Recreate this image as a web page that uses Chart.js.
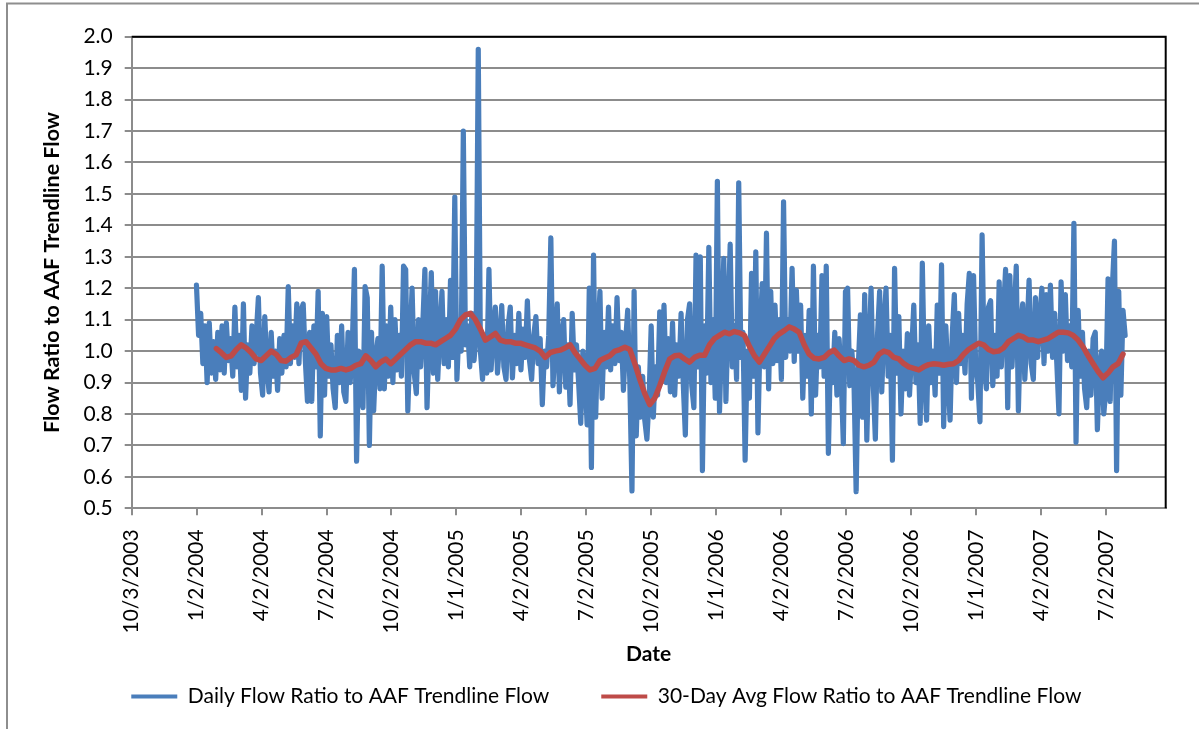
<!DOCTYPE html>
<html>
<head>
<meta charset="utf-8">
<title>Flow Ratio to AAF Trendline Flow</title>
<script src="https://cdn.jsdelivr.net/npm/chart.js@4.4.1/dist/chart.umd.min.js"></script>
<style>
    html, body { margin: 0; padding: 0; background: #fff; }
    #wrap { width: 1199px; height: 729px; }
</style>
</head>
<body>
<div id="wrap"><canvas id="flowChart" width="1199" height="729"></canvas></div>
<script>
// x values are days after 10/3/2003 (first tick of the date axis)
const axisMaxDay = 1453;
const tickStepDays = 91.25;
const xTickLabels = [
    '10/3/2003', '1/2/2004', '4/2/2004', '7/2/2004', '10/2/2004', '1/1/2005',
    '4/2/2005', '7/2/2005', '10/2/2005', '1/1/2006', '4/2/2006', '7/2/2006',
    '10/2/2006', '1/1/2007', '4/2/2007', '7/2/2007'
];
const yTicks = [0.5, 0.6, 0.7, 0.8, 0.9, 1.0, 1.1, 1.2, 1.3, 1.4, 1.5, 1.6, 1.7, 1.8, 1.9, 2.0];

// daily ratio, read every 3rd day starting 1/2/2004 (day 91)
const dailyStartDay = 91;
const dailyStepDays = 3;
const daily2004 = [
    1.21, 1.05, 1.12, 0.96, 1.08, 0.90, 1.09, 0.93, 1.03, 0.91,
    1.06, 0.94, 1.08, 0.93, 1.09, 0.97, 1.04, 0.92, 1.14, 0.95,
    1.05, 0.875, 1.15, 0.85, 1.02, 0.93, 1.08, 0.96, 1.05, 1.17,
    0.93, 0.86, 1.11, 0.95, 0.87, 1.06, 0.92, 1.00, 0.875, 1.04,
    0.93, 1.05, 0.95, 1.205, 0.96, 1.08, 0.98, 1.15, 0.96, 1.13,
    1.15, 0.97, 0.84, 1.06, 0.84, 1.08, 0.95, 1.19, 0.73, 1.12,
    0.86, 1.11, 0.92, 1.02, 0.88, 0.82, 1.05, 0.90, 1.08, 0.87,
    0.84, 1.06, 0.90, 1.02, 1.26, 0.65, 1.00, 0.90, 0.82, 1.205,
    1.17, 0.70, 1.06, 0.81, 0.98, 1.04, 0.88, 1.27, 0.88, 1.08,
    0.92, 1.14, 0.90, 1.10, 0.94, 1.05, 0.92, 1.27, 1.26, 0.81,
    1.02, 1.20, 0.93, 0.865, 1.10, 0.95, 1.08, 1.26, 0.82, 1.05,
    1.25, 0.93, 1.19, 0.91, 1.06, 1.19, 0.96, 1.10, 0.95, 1.225,
    0.98, 1.49
];
const daily2005 = [
    0.91, 1.08, 1.00, 1.70, 1.02, 1.08, 0.95, 1.12, 0.97, 1.05,
    1.96, 1.00, 0.91, 1.05, 0.93, 1.26, 0.94, 1.06, 1.14, 0.93,
    1.03, 1.145, 0.95, 0.91, 1.08, 1.14, 0.915, 1.05, 0.96, 1.12,
    0.94, 1.07, 0.98, 1.16, 0.97, 0.91, 1.05, 1.11, 0.96, 1.04,
    0.83, 1.00, 0.95, 1.05, 1.36, 0.89, 1.02, 1.15, 0.87, 1.05,
    1.10, 0.885, 1.02, 0.83, 1.12, 0.94, 1.02, 0.90, 0.77, 1.00,
    0.92, 0.765, 1.20, 0.63, 1.305, 0.79, 1.05, 1.19, 0.85, 1.06,
    0.95, 1.14, 0.94, 1.08, 0.96, 1.17, 0.97, 1.06, 0.875, 1.03,
    1.13, 0.90, 0.555, 1.19, 0.73, 0.95, 0.79, 0.92, 0.78, 0.72,
    0.85, 1.08, 0.79, 0.95, 0.86, 1.125, 0.92, 1.146, 0.90, 1.04,
    0.87, 1.09, 0.86, 1.02, 0.92, 1.12, 0.90, 0.733, 1.10, 1.15,
    0.89, 0.82, 1.305, 0.95, 1.30, 0.62, 1.08, 0.93, 1.33, 0.90,
    1.10, 0.85
];
const daily2006 = [
    1.54, 0.807, 1.05, 1.295, 0.84, 1.10, 1.34, 0.95, 1.08, 0.91,
    1.535, 0.98, 1.06, 0.653, 1.00, 0.85, 1.247, 0.92, 1.316, 0.74,
    1.05, 1.215, 0.95, 1.375, 0.88, 1.19, 0.96, 1.146, 0.97, 1.10,
    0.91, 1.475, 0.98, 1.10, 1.00, 1.263, 0.967, 1.194, 1.00, 1.146,
    0.85, 1.05, 0.92, 1.13, 0.80, 1.27, 0.86, 1.05, 0.95, 1.24,
    0.92, 1.27, 0.675, 1.00, 0.90, 1.06, 0.86, 1.04, 0.92, 0.706,
    1.19, 1.20, 0.89, 1.00, 0.90, 0.553, 0.95, 1.115, 0.79, 1.18,
    0.717, 1.00, 1.20, 0.90, 0.72, 1.05, 1.19, 0.87, 1.08, 1.20,
    0.92, 1.05, 0.653, 1.263, 0.93, 1.11, 0.80, 1.00, 0.88, 1.056,
    0.86, 1.00, 1.146, 0.90, 1.02, 0.77, 1.28, 0.92, 0.78, 1.08,
    0.90, 1.00, 0.86, 1.146, 0.93, 1.274, 0.76, 1.08, 0.92, 0.78,
    1.05, 1.18, 0.90, 1.12, 0.96, 1.05, 0.93, 1.15, 1.247, 0.85,
    1.24, 0.95
];
const daily2007 = [
    0.90, 0.775, 1.37, 0.95, 0.88, 1.14, 1.16, 0.89, 1.05, 0.92,
    1.22, 0.95, 1.12, 1.26, 0.82, 1.24, 0.95, 1.10, 1.27, 0.81,
    1.08, 1.15, 0.91, 1.05, 1.226, 0.96, 0.91, 1.17, 0.98, 1.10,
    1.20, 0.96, 1.18, 1.00, 1.21, 0.98, 1.12, 0.96, 0.80, 1.22,
    1.00, 1.18, 0.97, 1.08, 0.95, 1.406, 0.71, 1.13, 0.92, 1.06,
    0.88, 0.82, 1.00, 0.86, 1.04, 1.06, 0.75, 0.95, 1.00, 0.80,
    0.88, 1.23, 0.84, 1.20, 1.35, 0.62, 1.19, 0.86, 1.13, 1.05
];

// 30-day average, read weekly starting day 119
const avgStartDay = 119;
const avgStepDays = 7;
const avgRatio = [
    1.008, 0.995, 0.98, 0.985, 1.005, 1.02, 1.01, 0.995, 0.975, 0.97,
    0.985, 1.0, 0.99, 0.97, 0.968, 0.98, 0.988, 1.025, 1.03, 1.01,
    0.99, 0.96, 0.945, 0.94, 0.94, 0.945, 0.94, 0.945, 0.955, 0.96,
    0.985, 0.97, 0.95, 0.965, 0.975, 0.96, 0.975, 0.99, 1.005, 1.02,
    1.03, 1.03, 1.025, 1.025, 1.02, 1.03, 1.04, 1.05, 1.07, 1.10,
    1.115, 1.12, 1.10, 1.07, 1.035, 1.045, 1.056, 1.035, 1.03, 1.03,
    1.025, 1.025, 1.02, 1.015, 1.01, 1.0, 0.98, 0.995, 1.0, 1.003,
    1.01, 1.02, 0.995, 0.975, 0.955, 0.94, 0.945, 0.97, 0.978, 0.985,
    1.0, 1.005, 1.012, 1.005, 0.96, 0.91, 0.865, 0.83, 0.85, 0.89,
    0.935, 0.975, 0.985, 0.987, 0.975, 0.965, 0.98, 0.987, 0.987, 1.02,
    1.04, 1.05, 1.06, 1.055, 1.062, 1.058, 1.05, 1.015, 0.985, 0.965,
    0.99, 1.015, 1.04, 1.055, 1.065, 1.077, 1.07, 1.06, 1.02, 0.99,
    0.977, 0.975, 0.98, 0.995, 1.003, 0.985, 0.97, 0.975, 0.97, 0.955,
    0.95, 0.955, 0.965, 0.99, 1.0, 0.995, 0.98, 0.975, 0.96, 0.95,
    0.945, 0.94, 0.95, 0.957, 0.96, 0.958, 0.955, 0.958, 0.96, 0.97,
    0.99, 1.005, 1.015, 1.025, 1.02, 1.005, 0.998, 1.0, 1.01, 1.03,
    1.04, 1.05, 1.045, 1.035, 1.035, 1.03, 1.035, 1.04, 1.05, 1.06,
    1.06, 1.058, 1.05, 1.035, 1.013, 0.985, 0.96, 0.935, 0.915, 0.93,
    0.95, 0.96, 0.99
];

const dailyRatio = [...daily2004, ...daily2005, ...daily2006, ...daily2007];

const gridGray = '#8c8c8c';
const fontFamily = "Lato, 'Open Sans', sans-serif";
Chart.defaults.font.family = fontFamily;
Chart.defaults.color = '#000';

// outer frame + black top/right border of the plot area (Excel look)
const framePlugin = {
    id: 'frame',
    beforeDraw(chart) {
        const c = chart.ctx;
        c.save();
        c.fillStyle = '#fff';
        c.fillRect(0, 0, chart.width, chart.height);
        c.strokeStyle = '#8e8e8e';
        c.lineWidth = 2;
        c.beginPath();
        c.moveTo(7, chart.height);
        c.lineTo(7, 3.5);
        c.lineTo(chart.width, 3.5);
        c.stroke();
        c.restore();
    },
    afterDraw(chart) {
        const { left, top, right, bottom } = chart.chartArea;
        const c = chart.ctx;
        c.save();
        c.strokeStyle = '#000';
        c.lineWidth = 2;
        c.beginPath();
        c.moveTo(left, top);
        c.lineTo(right, top);
        c.lineTo(right, bottom);
        c.stroke();
        c.restore();
    }
};

const ctx = document.getElementById('flowChart').getContext('2d');
const flowChart = new Chart(ctx, {
    type: 'line',
    data: {
        datasets: [{
            label: 'Daily Flow Ratio to AAF Trendline Flow',
            data: dailyRatio.map((v, i) => ({ x: dailyStartDay + i * dailyStepDays, y: v })),
            borderColor: '#4a7ebb',
            backgroundColor: '#4a7ebb',
            borderWidth: 5.2,
            borderJoinStyle: 'round',
            borderCapStyle: 'round',
            pointRadius: 0,
            tension: 0,
            order: 1
        }, {
            label: '30-Day Avg Flow Ratio to AAF Trendline Flow',
            data: avgRatio.map((v, i) => ({ x: avgStartDay + i * avgStepDays, y: v })),
            borderColor: '#be4b48',
            backgroundColor: '#be4b48',
            borderWidth: 5.5,
            borderJoinStyle: 'round',
            borderCapStyle: 'round',
            pointRadius: 0,
            tension: 0,
            order: 0
        }]
    },
    options: {
        responsive: false,
        animation: false,
        layout: { padding: { left: 47, top: 36.7, right: 33.3, bottom: 12 } },
        plugins: {
            tooltip: { enabled: false },
            legend: {
                position: 'bottom',
                labels: {
                    boxWidth: 46,
                    boxHeight: 4,
                    padding: 52,
                    color: '#000',
                    font: { size: 21 },
                    sort: (a, b) => a.datasetIndex - b.datasetIndex,
                    generateLabels: (chart) => Chart.defaults.plugins.legend.labels.generateLabels(chart)
                        .map(item => ({ ...item, fillStyle: item.strokeStyle, lineWidth: 0 }))
                }
            }
        },
        scales: {
            x: {
                type: 'linear',
                min: 0,
                max: axisMaxDay,
                afterBuildTicks: (scale) => {
                    scale.ticks = xTickLabels.map((_, i) => ({ value: i * tickStepDays }));
                },
                afterFit: (scale) => { scale.height = 125.7; },
                ticks: {
                    autoSkip: false,
                    minRotation: 90,
                    maxRotation: 90,
                    padding: 14,
                    color: '#000',
                    font: { size: 21 },
                    callback: (value, index) => xTickLabels[index]
                },
                grid: { drawOnChartArea: false, color: gridGray, lineWidth: 2, tickLength: 7 },
                border: { color: gridGray, width: 2 },
                title: {
                    display: true,
                    text: 'Date',
                    color: '#000',
                    font: { size: 21, weight: 'bold' },
                    padding: { top: 0, bottom: -32.6 }
                }
            },
            y: {
                min: 0.5,
                max: 2.0,
                afterBuildTicks: (scale) => {
                    scale.ticks = yTicks.map(v => ({ value: v }));
                },
                afterFit: (scale) => { scale.width = 84.7; },
                ticks: {
                    padding: 12,
                    color: '#000',
                    font: { size: 21 },
                    callback: (value) => value.toFixed(1)
                },
                grid: { color: gridGray, lineWidth: 2, tickLength: 7 },
                border: { color: gridGray, width: 2 },
                title: {
                    display: true,
                    text: 'Flow Ratio to AAF Trendline Flow',
                    color: '#000',
                    font: { size: 21.5, weight: 'bold' },
                    padding: { top: -8, bottom: 0 }
                }
            }
        }
    },
    plugins: [framePlugin]
});
</script>
</body>
</html>
